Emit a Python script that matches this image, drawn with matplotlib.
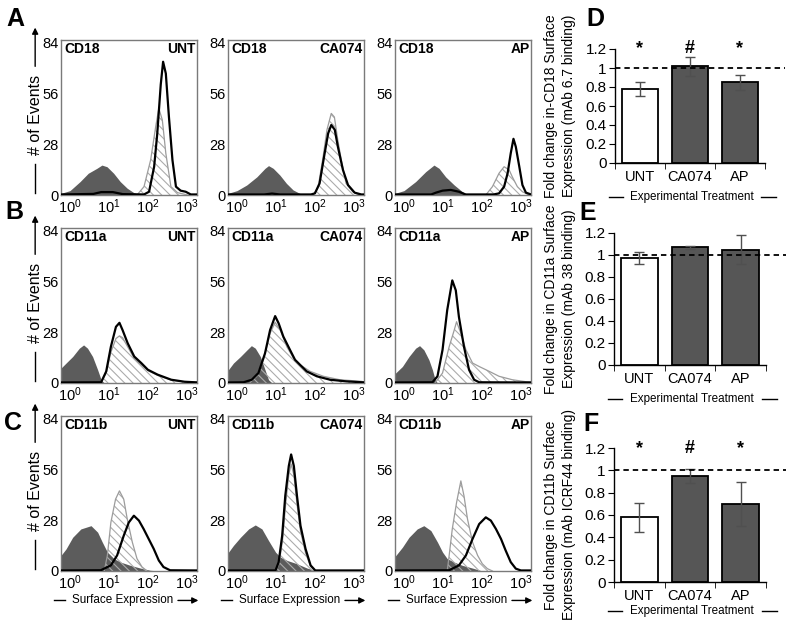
import numpy as np
import matplotlib
matplotlib.use("Agg")
import matplotlib.pyplot as plt

plt.rcParams['font.family'] = ['Liberation Sans', 'DejaVu Sans']
plt.rcParams['mathtext.fontset'] = 'custom'
plt.rcParams['mathtext.rm'] = 'Liberation Sans'
plt.rcParams['hatch.linewidth'] = 0.8

# ---- histogram panels (A-C) ----
markers = ['CD18', 'CD11a', 'CD11b']
treatments = ['UNT', 'CA074', 'AP']
hist_yticks = [0, 28, 56, 84]
hist_xticks = [1, 10, 100, 1000]
hist_xticklabels = [r'$\mathregular{10^{0}}$', r'$\mathregular{10^{1}}$',
                    r'$\mathregular{10^{2}}$', r'$\mathregular{10^{3}}$']

# curves: (log10 fluorescence, # of events)
cd18_unt_gray = [(-0.23, 0.8), (-0.17, 1.3), (0, 2.4), (0.26, 7.4), (0.47, 12), (0.69, 14.7), (0.82, 16.5),
                 (0.95, 15.6), (1.12, 12), (1.29, 7.4), (1.47, 3.7), (1.64, 1.3), (1.81, 0)]
cd18_unt_hatch = [(1.72, 0), (1.9, 4.6), (2.07, 19.3), (2.2, 37.7), (2.28, 47.8), (2.37, 41.4), (2.46, 23),
                  (2.59, 4.6), (2.76, 1.3), (3.02, 0)]
cd18_unt_line = [(-0.23, 0.3), (0.6, 0.6), (0.8, 1.6), (1.1, 1.6), (1.35, 0.5), (1.9, 0.3), (2.03, 1.8),
                 (2.16, 15.6), (2.24, 33.8), (2.33, 61), (2.39, 73.5), (2.46, 67), (2.54, 43), (2.63, 19.3),
                 (2.72, 4.6), (2.84, 2.4), (2.97, 1.8), (3.1, 0.3), (3.3, 0.3)]

cd18_ca_gray = [(-0.23, 0.8), (-0.17, 1.3), (0, 2.4), (0.25, 5.5), (0.51, 10), (0.72, 14.7), (0.81, 16.2),
                (0.93, 14.7), (1.1, 11), (1.27, 6.4), (1.44, 2.8), (1.61, 0.9), (1.78, 0)]
cd18_ca_hatch = [(1.95, 0), (2.08, 4), (2.21, 21), (2.31, 36), (2.42, 45), (2.5, 43), (2.59, 30), (2.68, 19),
                 (2.8, 6.4), (2.97, 1.8), (3.14, 0)]
cd18_ca_line = [(-0.23, 0.3), (0.7, 0.3), (0.9, 0.8), (1.1, 0.3), (1.9, 0.3), (2.0, 0.9), (2.12, 6.4),
                (2.25, 23), (2.34, 34), (2.42, 38.6), (2.51, 36), (2.59, 26.6), (2.72, 13.8), (2.85, 5.5),
                (3.02, 1.3), (3.19, 0.3), (3.3, 0.3)]

cd18_ap_gray = [(-0.23, 0.8), (-0.17, 1.3), (0, 2.4), (0.3, 7.4), (0.56, 12.9), (0.77, 16.5), (0.9, 14.7),
                (1.07, 10), (1.29, 5.5), (1.5, 1.8), (1.67, 0)]
cd18_ap_hatch = [(2.1, 0), (2.27, 4.6), (2.44, 12), (2.57, 15.6), (2.7, 13.8), (2.78, 10), (2.91, 4.6),
                 (3.04, 1.8), (3.21, 0)]
cd18_ap_line = [(-0.23, 0.3), (0.7, 0.3), (0.82, 1.3), (0.99, 2.4), (1.2, 2.8), (1.41, 1.8), (1.58, 0.3),
                (2.3, 0.3), (2.44, 0.9), (2.57, 4.6), (2.66, 12), (2.74, 23), (2.81, 31), (2.87, 26.6),
                (2.96, 15.6), (3.04, 5.5), (3.13, 1.3), (3.26, 0.3)]

cd11a_unt_gray = [(-0.23, 8.2), (-0.1, 11), (0.07, 14.6), (0.24, 19.2), (0.35, 21), (0.45, 19.2), (0.58, 14.6),
                  (0.71, 7.3), (0.8, 1.8), (0.88, 0)]
cd11a_unt_hatch = [(0.8, 0.4), (0.93, 5.5), (1.05, 17), (1.18, 24.5), (1.27, 26), (1.35, 25), (1.48, 20),
                   (1.65, 13.5), (1.83, 10), (2.0, 6.8), (2.25, 4.2), (2.6, 1.6), (2.94, 0.6), (3.3, 0.3)]
cd11a_unt_line = [(-0.23, 0.3), (0.8, 0.4), (0.93, 6.4), (1.05, 20), (1.18, 31), (1.27, 33.2), (1.35, 29.2),
                  (1.48, 22), (1.65, 14.6), (1.83, 11), (2.0, 7.3), (2.25, 4.6), (2.6, 1.8), (2.94, 0.7),
                  (3.3, 0.3)]

cd11a_ca_gray = [(-0.23, 7), (-0.09, 11), (0.09, 14.6), (0.26, 18.3), (0.37, 20.6), (0.47, 19.2), (0.6, 14.6),
                 (0.72, 7.3), (0.81, 1.8), (0.9, 0)]
cd11a_ca_hatch = [(0.34, 0.4), (0.51, 3.7), (0.68, 12.8), (0.85, 27.4), (0.98, 33.5), (1.11, 29.2), (1.28, 20),
                  (1.45, 13.7), (1.62, 10), (1.88, 6.4), (2.22, 3.7), (2.64, 1.8), (3.2, 0.9), (3.3, 0.5)]
cd11a_ca_line = [(-0.23, 0.3), (0.17, 0.4), (0.38, 1.8), (0.55, 5.5), (0.72, 16.4), (0.85, 29.2), (0.98, 36.9),
                 (1.07, 32.9), (1.19, 25.6), (1.36, 18.3), (1.49, 12.8), (1.62, 10), (1.79, 6.4), (2.05, 3.7),
                 (2.39, 1.8), (2.81, 0.9), (3.3, 0.3)]

cd11a_ap_gray = [(-0.23, 5.2), (-0.04, 9.1), (0.13, 14.6), (0.3, 19.2), (0.4, 20.6), (0.51, 18.3), (0.64, 12.8),
                 (0.73, 7.3), (0.8, 1.8), (0.86, 0)]
cd11a_ap_hatch = [(0.81, 0.4), (0.99, 5.5), (1.16, 20), (1.29, 29.2), (1.35, 33.8), (1.46, 27.4), (1.59, 18.3),
                  (1.76, 11), (1.93, 9.1), (2.19, 6.4), (2.44, 3.7), (2.78, 1.8), (3.13, 0.7), (3.3, 0.4)]
cd11a_ap_line = [(-0.23, 0.3), (0.73, 0.4), (0.86, 3.7), (0.99, 18.3), (1.11, 40.2), (1.24, 56.6), (1.33, 51.1),
                 (1.41, 36.5), (1.54, 20), (1.67, 7.3), (1.8, 1.8), (1.93, 0.4), (3.3, 0.3)]

cd11b_unt_gray = [(-0.23, 8.6), (-0.1, 12.2), (0.07, 18.6), (0.28, 23.2), (0.54, 25), (0.71, 21.4), (0.83, 15.9),
                  (0.96, 10.4), (1.13, 6.8), (1.3, 4.9), (1.55, 3.1), (1.81, 1.6), (2.06, 0.4), (2.32, 0)]
cd11b_unt_hatch = [(0.88, 0), (0.96, 8.6), (1.05, 26.8), (1.17, 39.6), (1.27, 44.2), (1.38, 39.6), (1.47, 28.7),
                   (1.6, 15.9), (1.72, 6.8), (1.85, 2.2), (1.98, 0)]
cd11b_unt_line = [(-0.23, 0.3), (0.79, 0.4), (1.05, 3.1), (1.21, 8.6), (1.38, 19.5), (1.51, 26.8), (1.64, 30.5),
                  (1.77, 27.8), (1.89, 23.2), (2.02, 17.7), (2.15, 12.2), (2.28, 5.8), (2.4, 2.2), (2.57, 0.4),
                  (3.3, 0.3)]

cd11b_ca_gray = [(-0.23, 10), (-0.09, 14.1), (0.09, 18.6), (0.3, 23.2), (0.47, 25.4), (0.64, 23.2), (0.81, 16.8),
                 (0.99, 10.4), (1.11, 7.7), (1.29, 5.8), (1.54, 4), (1.8, 1.6), (2.06, 0)]
cd11b_ca_hatch = [(1.0, 0), (1.08, 4), (1.17, 17), (1.25, 37), (1.33, 53), (1.39, 59), (1.46, 53), (1.54, 37),
                  (1.63, 22), (1.76, 10), (1.89, 2.5), (2.0, 0)]
cd11b_ca_line = [(-0.23, 0.3), (0.99, 0.3), (1.07, 4.9), (1.16, 19.5), (1.24, 41.5), (1.33, 57.9), (1.39, 64.3),
                 (1.46, 57.9), (1.54, 41.5), (1.63, 25), (1.76, 12.2), (1.89, 3.1), (2.01, 0.3), (3.3, 0.3)]

cd11b_ap_gray = [(-0.23, 8), (-0.04, 13.1), (0.13, 18.6), (0.34, 23.2), (0.51, 25), (0.69, 22.3), (0.86, 15.9),
                 (0.99, 10.4), (1.11, 6.8), (1.29, 4.9), (1.5, 3.1), (1.76, 1.6), (2.01, 0)]
cd11b_ap_hatch = [(1.11, 0), (1.16, 8.6), (1.24, 23.2), (1.35, 37.8), (1.46, 49.7), (1.54, 41.5), (1.63, 28.7),
                  (1.76, 15.9), (1.89, 8.6), (2.01, 4), (2.14, 1.3), (2.27, 0)]
cd11b_ap_line = [(-0.23, 0.3), (1.16, 0.4), (1.41, 3.1), (1.59, 8.6), (1.76, 17.7), (1.93, 25.9), (2.1, 29.6),
                 (2.23, 27.8), (2.36, 23.2), (2.49, 17.7), (2.61, 11.3), (2.74, 4.9), (2.87, 1.3), (3.0, 0.3),
                 (3.3, 0.3)]

hist_curves = [
    [(cd18_unt_gray, cd18_unt_hatch, cd18_unt_line),
     (cd18_ca_gray, cd18_ca_hatch, cd18_ca_line),
     (cd18_ap_gray, cd18_ap_hatch, cd18_ap_line)],
    [(cd11a_unt_gray, cd11a_unt_hatch, cd11a_unt_line),
     (cd11a_ca_gray, cd11a_ca_hatch, cd11a_ca_line),
     (cd11a_ap_gray, cd11a_ap_hatch, cd11a_ap_line)],
    [(cd11b_unt_gray, cd11b_unt_hatch, cd11b_unt_line),
     (cd11b_ca_gray, cd11b_ca_hatch, cd11b_ca_line),
     (cd11b_ap_gray, cd11b_ap_hatch, cd11b_ap_line)],
]

# ---- bar panels (D-F) ----
bar_categories = ['UNT', 'CA074', 'AP']
bar_yticks = [0, 0.2, 0.4, 0.6, 0.8, 1.0, 1.2]
bar_yticklabels = ['0', '0.2', '0.4', '0.6', '0.8', '1', '1.2']
cd18_fold = [0.78, 1.02, 0.85]
cd18_err = [0.07, 0.10, 0.08]
cd18_marks = ['*', '#', '*']
cd11a_fold = [0.97, 1.07, 1.05]
cd11a_err = [0.055, 0.012, 0.13]
cd11a_marks = ['', '', '']
cd11b_fold = [0.58, 0.95, 0.70]
cd11b_err = [0.13, 0.065, 0.20]
cd11b_marks = ['*', '#', '*']
bar_ylabels = ['Fold change in-CD18 Surface\nExpression (mAb 6.7 binding)',
               'Fold change in CD11a Surface\nExpression (mAb 38 binding)',
               'Fold change in CD11b Surface\nExpression (mAb ICRF44 binding)']

W, H = 790, 625
fig = plt.figure(figsize=(W / 100, H / 100), dpi=100)


def px_rect(l, t, w, h):
    return [l / W, 1 - (t + h) / H, w / W, h / H]


def curve(points):
    lx, y = zip(*points)
    return 10 ** np.array(lx), np.array(y)


col_left = [61, 228, 395]
row_top = [40, 228, 416]
for r in range(3):
    for c in range(3):
        ax = fig.add_axes(px_rect(col_left[c], row_top[r], 136, 155))
        gray, hatch, line = hist_curves[r][c]
        gx, gy = curve(gray)
        ax.fill_between(gx, gy, 0, color='#5c5c5c', lw=0, zorder=1)
        hx, hy = curve(hatch)
        ax.fill_between(hx, hy, 0, facecolor='none', edgecolor='#ababab', hatch='\\\\\\\\', lw=0, zorder=2)
        ax.plot(hx, hy, color='#9c9c9c', lw=0.9, zorder=3)
        bx, by = curve(line)
        ax.plot(bx, by, color='black', lw=1.6, zorder=4)
        ax.set_xscale('log')
        ax.set_xlim(10 ** -0.23, 10 ** 3.26)
        ax.set_ylim(0, 85.5)
        ax.set_xticks(hist_xticks)
        ax.set_xticklabels(hist_xticklabels)
        ax.minorticks_off()
        ax.set_yticks(hist_yticks)
        ax.tick_params(length=0, labelsize=10.5, pad=2)
        for s in ax.spines.values():
            s.set_color('#7a7a7a')
            s.set_linewidth(1.0)
        ax.text(0.025, 0.985, markers[r], transform=ax.transAxes, ha='left', va='top',
                fontsize=10, fontweight='bold')
        ax.text(0.99, 0.985, treatments[c], transform=ax.transAxes, ha='right', va='top',
                fontsize=10, fontweight='bold')
        if c == 0:
            ax.plot([-0.19, -0.19], [0.01, 0.2], transform=ax.transAxes, clip_on=False, color='black', lw=1)
            ax.annotate('', xy=(-0.19, 1.08), xytext=(-0.19, 0.83), xycoords='axes fraction',
                        arrowprops=dict(arrowstyle='-|>', color='black', lw=1, mutation_scale=9,
                                        shrinkA=0, shrinkB=0))
            ax.text(-0.19, 0.515, '# of Events', transform=ax.transAxes, rotation=90,
                    ha='center', va='center', fontsize=11.5)
        if r == 2:
            ax.text(0.45, -0.19, 'Surface Expression', transform=ax.transAxes,
                    ha='center', va='center', fontsize=8.4)
            ax.plot([-0.05, 0.03], [-0.19, -0.19], transform=ax.transAxes, clip_on=False, color='black', lw=1)
            ax.annotate('', xy=(1.01, -0.19), xytext=(0.86, -0.19), xycoords='axes fraction',
                        arrowprops=dict(arrowstyle='-|>', color='black', lw=1, mutation_scale=9,
                                        shrinkA=0, shrinkB=0))

bar_rects = [(615, 49, 150, 114), (614, 233, 152, 132), (614, 448, 152, 134)]
bar_sets = [(cd18_fold, cd18_err, cd18_marks), (cd11a_fold, cd11a_err, cd11a_marks),
            (cd11b_fold, cd11b_err, cd11b_marks)]
bar_colors = ['white', '#565656', '#565656']
exp_y_px = [197, 399, 611]
for i, (rect, (vals, errs, marks)) in enumerate(zip(bar_rects, bar_sets)):
    l, t, w, h = rect
    ax = fig.add_axes(px_rect(l, t, w, h))
    x = np.arange(len(bar_categories))
    ax.bar(x, vals, width=0.72, color=bar_colors, edgecolor='black', linewidth=1.3, zorder=2,
           yerr=errs, error_kw=dict(ecolor='#505050', elinewidth=1, capsize=3.5, capthick=1, zorder=3))
    ax.axhline(1.0, xmin=0, xmax=1.13, color='black', ls='--', lw=1.3, dashes=(3, 2.2),
               clip_on=False, zorder=4)
    for xi, m in zip(x, marks):
        if m:
            ax.text(xi, 1.12, m, ha='center', va='bottom', fontsize=13, fontweight='bold', clip_on=False)
    ax.set_xlim(-0.5, 2.5)
    ax.set_ylim(0, 1.2)
    ax.set_yticks(bar_yticks)
    ax.set_yticklabels(bar_yticklabels)
    ax.set_xticks(x)
    ax.set_xticklabels(bar_categories)
    ax.set_xticks([-0.5, 0.5, 1.5, 2.5], minor=True)
    ax.tick_params(axis='x', which='major', length=0, pad=5, labelsize=10.5)
    ax.tick_params(axis='x', which='minor', length=4, direction='out')
    ax.tick_params(axis='y', length=4, direction='out', labelsize=11, pad=2)
    for s in ['top', 'right']:
        ax.spines[s].set_visible(False)
    for s in ['left', 'bottom']:
        ax.spines[s].set_linewidth(1.0)
    ey = (t + h - exp_y_px[i]) / h
    ax.text(0.51, ey, 'Experimental Treatment', transform=ax.transAxes, ha='center', va='center',
            fontsize=8.4)
    ax.plot([-0.04, 0.055], [ey, ey], transform=ax.transAxes, clip_on=False, color='black', lw=1)
    ax.plot([0.975, 1.07], [ey, ey], transform=ax.transAxes, clip_on=False, color='black', lw=1)
    fig.text(560 / W, 1 - (t + h / 2) / H, bar_ylabels[i], rotation=90, ha='center', va='center',
             fontsize=10, linespacing=1.4, multialignment='center')

panel_letters = [('A', 15, 19), ('B', 14, 212), ('C', 13, 423), ('D', 595, 19), ('E', 588, 213), ('F', 591, 424)]
for letter, px, py in panel_letters:
    fig.text(px / W, 1 - py / H, letter, ha='center', va='center', fontsize=18, fontweight='bold')

fig.savefig('out.png', dpi=100)
